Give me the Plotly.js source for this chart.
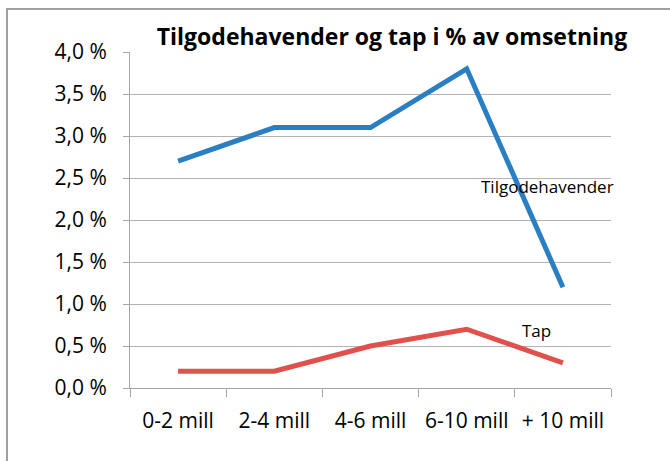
<!DOCTYPE html>
<html>
<head>
<meta charset="utf-8">
<script src="https://cdn.plot.ly/plotly-3.0.1.min.js"></script>
<style>html,body{margin:0;padding:0;background:#fff;}#chart{width:670px;height:461px;}</style>
</head>
<body>
<div id="chart"></div>
<script>
const categories = ["0-2 mill", "2-4 mill", "4-6 mill", "6-10 mill", "+ 10 mill"];
const tilgodehavender = [2.7, 3.1, 3.1, 3.8, 1.2];
const tap = [0.2, 0.2, 0.5, 0.7, 0.3];
const yTickVals = [0, 0.5, 1.0, 1.5, 2.0, 2.5, 3.0, 3.5, 4.0];
const yTickText = ["0,0 %", "0,5 %", "1,0 %", "1,5 %", "2,0 %", "2,5 %", "3,0 %", "3,5 %", "4,0 %"];

const FONT = "'Open Sans', sans-serif";

const traces = [
  {x: categories, y: tilgodehavender, type: "scatter", mode: "lines", name: "Tilgodehavender",
   line: {color: "#2a7fc3", width: 5}},
  {x: categories, y: tap, type: "scatter", mode: "lines", name: "Tap",
   line: {color: "#e0514d", width: 5}}
];

const layout = {
  width: 670, height: 461,
  margin: {l: 130, r: 59, t: 52, b: 73},
  paper_bgcolor: "#fff", plot_bgcolor: "#fff",
  showlegend: false,
  font: {family: FONT, color: "#000"},
  title: {text: "<b>Tilgodehavender og tap i % av omsetning</b>", x: 0.585, xanchor: "center",
          y: 0.92, yanchor: "middle", font: {family: FONT, size: 23, color: "#000"}},
  xaxis: {type: "category", showline: true, linecolor: "#a6a6a6", linewidth: 1,
          ticks: "outside", tickson: "boundaries", ticklen: 8, tickcolor: "#a6a6a6",
          showgrid: false, tickfont: {family: FONT, size: 21, color: "#000"},
          ticklabelstandoff: 14, range: [-0.5, 4.5], fixedrange: true},
  yaxis: {range: [0, 4], tickvals: yTickVals, ticktext: yTickText, showline: true,
          linecolor: "#a6a6a6", linewidth: 1, ticks: "outside", ticklen: 6, tickcolor: "#a6a6a6",
          showgrid: true, gridcolor: "#b3b3b3", gridwidth: 1, zeroline: false,
          tickfont: {family: FONT, size: 21, color: "#000"}, ticklabelstandoff: 12},
  annotations: [
    {x: 4, y: 2.4, xref: "x", yref: "y", text: "Tilgodehavender", showarrow: false,
     xshift: -15, font: {family: FONT, size: 17, color: "#000"}},
    {x: 4, y: 0.68, xref: "x", yref: "y", text: "Tap", showarrow: false,
     xshift: -26, font: {family: FONT, size: 17, color: "#000"}}
  ],
  shapes: [
    {type: "path", xref: "paper", yref: "paper",
     path: "M -0.2557,-0.5 L -0.2557,1.128 L 1.4,1.128",
     line: {color: "#a0a0a0", width: 2}}
  ]
};

Plotly.newPlot("chart", traces, layout, {staticPlot: true, displayModeBar: false});
</script>
</body>
</html>
